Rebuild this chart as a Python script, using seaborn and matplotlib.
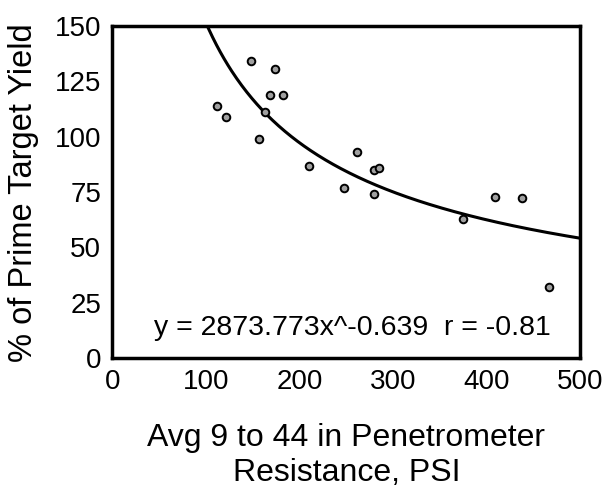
import numpy as np
import pandas as pd
import seaborn as sns
import matplotlib.pyplot as plt

# Values
resistance = [112, 122, 148, 174, 169, 182, 163, 157, 210, 248, 261, 280, 285, 280, 375, 409, 438, 467]
yield_pct = [114, 109, 134, 130.5, 119, 119, 111, 99, 87, 77, 93, 85, 86, 74, 63, 73, 72.5, 32]

# Fitted power curve shown on the chart
coef, power = 2873.773, -0.639

df = pd.DataFrame({"x": resistance, "y": yield_pct})
curve_x = np.linspace(95, 500, 300)
curve = pd.DataFrame({"x": curve_x, "y": coef * curve_x ** power})

sns.set_style("white")
plt.rcParams["font.family"] = ["Liberation Sans", "DejaVu Sans"]
plt.rcParams["text.color"] = "black"
plt.rcParams["axes.labelcolor"] = "black"
plt.rcParams["xtick.color"] = "black"
plt.rcParams["ytick.color"] = "black"

fig = plt.figure(figsize=(6.07, 4.92), dpi=100)
ax = fig.add_axes([0.185, 0.272, 0.771, 0.675])

sns.lineplot(data=curve, x="x", y="y", ax=ax, color="black", linewidth=2.2)
sns.scatterplot(data=df, x="x", y="y", ax=ax, s=30, color="#a0a0a0",
                edgecolor="black", linewidth=1.4, zorder=3)

ax.set_xlim(0, 500)
ax.set_ylim(0, 150)
ax.set_xticks(range(0, 501, 100))
ax.set_yticks(range(0, 151, 25))
for s in ax.spines.values():
    s.set_linewidth(2.5)
    s.set_color("black")
ax.tick_params(axis="x", direction="inout", length=8, width=1, labelsize=20, pad=4)
ax.tick_params(axis="y", direction="out", length=7, width=1, labelsize=20, pad=1)

ax.set_xlabel("Avg 9 to 44 in Penetrometer\nResistance, PSI", fontsize=23,
              labelpad=20, linespacing=1.2)
ax.set_ylabel("% of Prime Target Yield", fontsize=23.5)
ax.yaxis.set_label_coords(-0.157, 0.5)

ax.text(256, 10.5, "y = 2873.773x^-0.639  r = -0.81", ha="center", va="baseline", fontsize=20.5)

plt.savefig("out.png", dpi=100)
